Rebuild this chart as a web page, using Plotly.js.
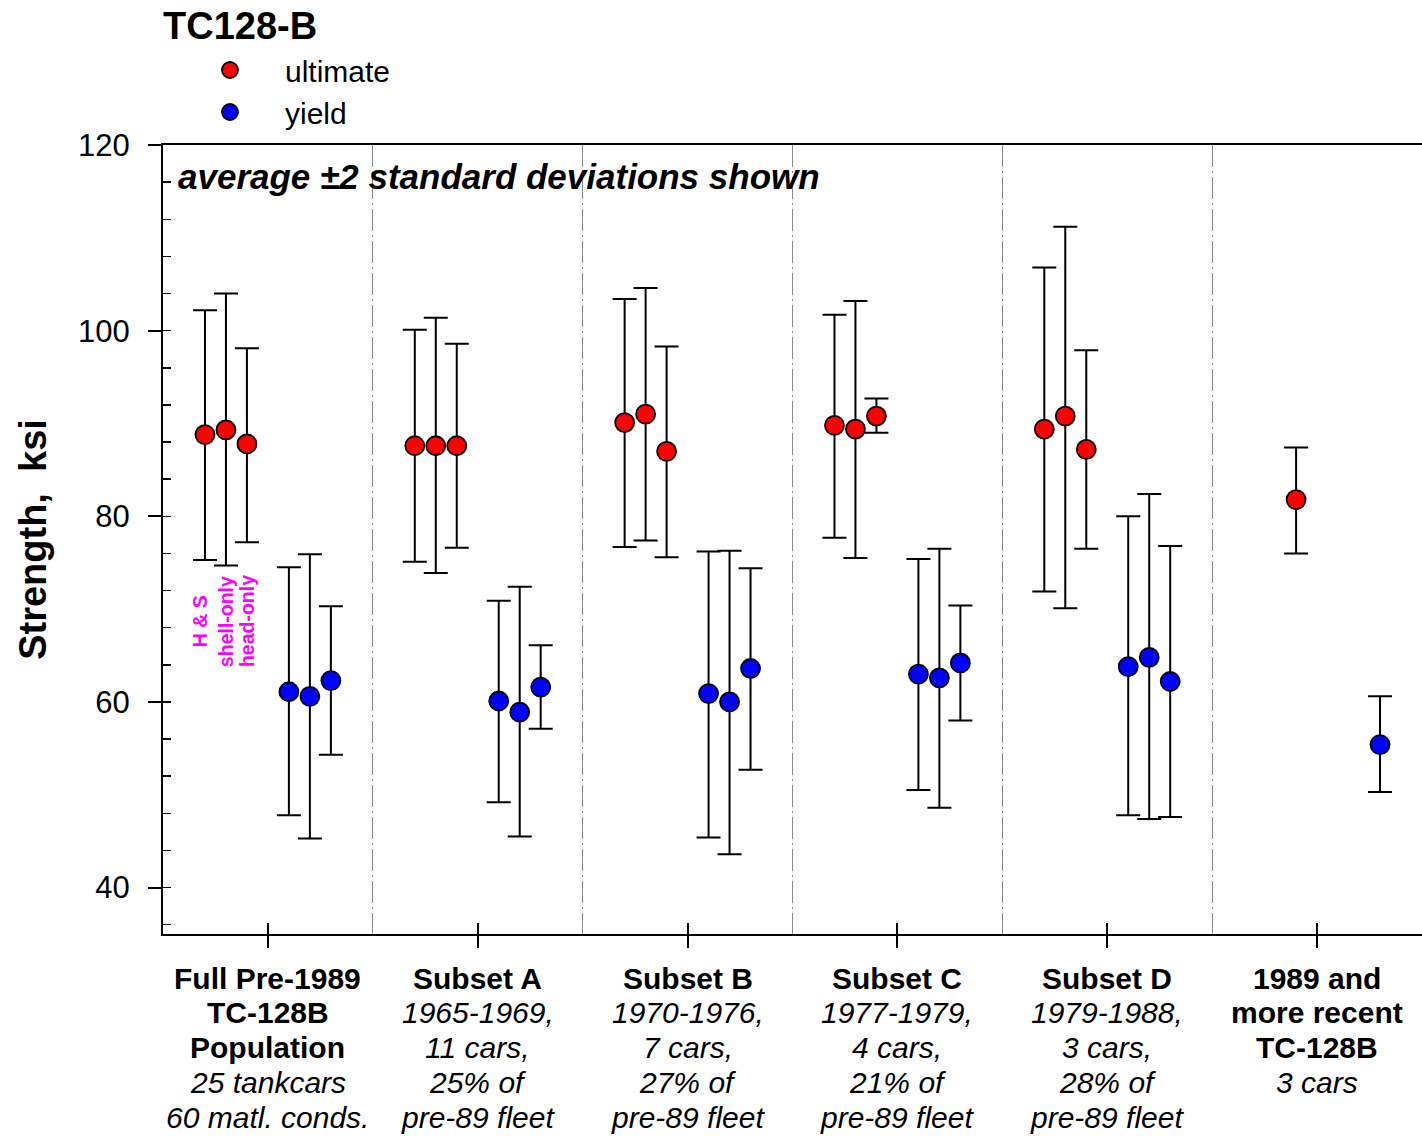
<!DOCTYPE html>
<html>
<head>
<meta charset="utf-8">
<script src="https://cdn.plot.ly/plotly-3.0.1.min.js"></script>
<style>
  html, body { margin: 0; padding: 0; background: #ffffff; }
  #chart { width: 1422px; height: 1136px; }
</style>
</head>
<body>
<div id="chart"></div>
<script>
// ---------------- data ----------------
const groupLabels = [
  ['<b>Full Pre-1989</b>', '<b>TC-128B</b>', '<b>Population</b>', '<i>25 tankcars</i>', '<i>60 matl. conds.</i>'],
  ['<b>Subset A</b>', '<i>1965-1969,</i>', '<i>11 cars,</i>', '<i>25% of</i>', '<i>pre-89 fleet</i>'],
  ['<b>Subset B</b>', '<i>1970-1976,</i>', '<i>7 cars,</i>', '<i>27% of</i>', '<i>pre-89 fleet</i>'],
  ['<b>Subset C</b>', '<i>1977-1979,</i>', '<i>4 cars,</i>', '<i>21% of</i>', '<i>pre-89 fleet</i>'],
  ['<b>Subset D</b>', '<i>1979-1988,</i>', '<i>3 cars,</i>', '<i>28% of</i>', '<i>pre-89 fleet</i>'],
  ['<b>1989 and</b>', '<b>more recent</b>', '<b>TC-128B</b>', '<i>3 cars</i>']
];
const conditions = ['H & S', 'shell-only', 'head-only'];

// ultimate strength (ksi): average, average+2sd, average-2sd
const ultMeanHS     = [88.8, 87.6, 90.1, 89.8, 89.4, null];
const ultUpperHS    = [102.2, 100.1, 103.4, 101.7, 106.8, null];
const ultLowerHS    = [75.3, 75.1, 76.7, 77.7, 71.9, null];
const ultMeanShell  = [89.3, 87.6, 91.0, 89.4, 90.8, null];
const ultUpperShell = [104.0, 101.4, 104.6, 103.2, 111.2, null];
const ultLowerShell = [74.7, 73.9, 77.4, 75.5, 70.1, null];
const ultMeanHead   = [87.8, 87.6, 87.0, 90.8, 87.2, 81.8];
const ultUpperHead  = [98.1, 98.6, 98.3, 92.7, 97.9, 87.4];
const ultLowerHead  = [77.2, 76.6, 75.6, 89.0, 76.5, 76.0];

// yield strength (ksi)
const yldMeanHS     = [61.1, 60.1, 60.9, 63.0, 63.8, null];
const yldUpperHS    = [74.5, 70.9, 76.2, 75.4, 80.0, null];
const yldLowerHS    = [47.8, 49.2, 45.4, 50.5, 47.8, null];
const yldMeanShell  = [60.6, 58.9, 60.0, 62.6, 64.8, null];
const yldUpperShell = [75.9, 72.4, 76.3, 76.5, 82.4, null];
const yldLowerShell = [45.3, 45.5, 43.6, 48.6, 47.4, null];
const yldMeanHead   = [62.3, 61.6, 63.6, 64.2, 62.2, 55.4];
const yldUpperHead  = [70.3, 66.1, 74.4, 70.4, 76.8, 60.6];
const yldLowerHead  = [54.3, 57.1, 52.7, 58.0, 47.6, 50.3];

// ---------------- build ----------------
const FONT = 'Arial, "Liberation Sans", Helvetica, sans-serif';
const step = 0.1;

function buildSeries(means, uppers, lowers, offsetFn) {
  const x = [], y = [], up = [], dn = [];
  means.forEach((arr, k) => {
    arr.forEach((v, g) => {
      if (v === null) return;
      x.push(g + offsetFn(k));
      y.push(v);
      up.push(uppers[k][g] - v);
      dn.push(v - lowers[k][g]);
    });
  });
  return { x, y, up, dn };
}

const ult = buildSeries(
  [ultMeanHS, ultMeanShell, ultMeanHead],
  [ultUpperHS, ultUpperShell, ultUpperHead],
  [ultLowerHS, ultLowerShell, ultLowerHead],
  k => (k - conditions.length) * step
);
const yld = buildSeries(
  [yldMeanHS, yldMeanShell, yldMeanHead],
  [yldUpperHS, yldUpperShell, yldUpperHead],
  [yldLowerHS, yldLowerShell, yldLowerHead],
  k => (k + 1) * step
);

function trace(name, s, color) {
  return {
    type: 'scatter', mode: 'markers', name: name,
    x: s.x, y: s.y,
    marker: { color: color, size: 19, line: { color: '#000000', width: 1.8 } },
    error_y: { type: 'data', symmetric: false, array: s.up, arrayminus: s.dn,
               color: '#000000', thickness: 2, width: 12 },
    hoverinfo: 'x+y'
  };
}

const data = [
  trace('ultimate', ult, '#ff0000'),
  trace('yield', yld, '#0000ff'),
  { type: 'scatter', x: [], y: [], xaxis: 'x2', yaxis: 'y2', showlegend: false, hoverinfo: 'skip' }
];

const groupIdx = groupLabels.map((_, i) => i);
const separators = groupLabels.slice(1).map((_, i) => i + 0.5);
const xRange = [-0.5, groupLabels.length - 0.5];
const yRange = [35, 120];

const annotations = [];
groupLabels.forEach((lines, g) => {
  lines.forEach((line, k) => {
    annotations.push({
      xref: 'x', x: g, yref: 'paper', y: 0,
      xanchor: 'center', yanchor: 'middle',
      yshift: -(44 + 34.8 * k),
      text: line, showarrow: false,
      font: { family: FONT, size: 30, color: '#000000' }
    });
  });
});
conditions.forEach((c, k) => {
  annotations.push({
    xref: 'x', x: (k - conditions.length) * step, yref: 'y', y: 68.7,
    xanchor: 'center', yanchor: 'middle', textangle: -90,
    xshift: k === 0 ? -5 : 0,
    text: '<b>' + c + '</b>', showarrow: false,
    font: { family: FONT, size: 19.5, color: '#ff00ff' }
  });
});
annotations.push({
  xref: 'paper', x: 0.0105, yref: 'paper', y: 0.9607,
  xanchor: 'left', yanchor: 'middle',
  text: '<b><i>average \u00b12 standard deviations shown</i></b>', showarrow: false,
  font: { family: FONT, size: 35, color: '#000000' }
});

const layout = {
  width: 1422, height: 1136,
  paper_bgcolor: '#ffffff', plot_bgcolor: 'rgba(0,0,0,0)',
  margin: { l: 163, r: 0, t: 145, b: 202, pad: 0 },
  font: { family: FONT, color: '#000000' },
  title: {
    text: '<b>TC128-B</b>', font: { family: FONT, size: 38, color: '#000000' },
    xref: 'paper', x: 0, xanchor: 'left',
    yref: 'container', y: 0.977, yanchor: 'middle'
  },
  showlegend: true,
  legend: {
    x: 0.0095, xanchor: 'left', y: 1.128, yanchor: 'top',
    font: { family: FONT, size: 30, color: '#000000' },
    itemwidth: 100, bgcolor: 'rgba(0,0,0,0)', borderwidth: 0,
    tracegroupgap: 0
  },
  xaxis: {
    range: xRange, tickmode: 'array', tickvals: groupIdx, showticklabels: false,
    ticks: 'outside', ticklen: 12, tickwidth: 2, tickcolor: '#000000',
    showline: true, linewidth: 2, linecolor: '#000000', mirror: true,
    showgrid: false, zeroline: false,
    minor: { tickmode: 'array', tickvals: separators, ticks: '', showgrid: true,
             gridcolor: '#8a8a8a', gridwidth: 1.3, griddash: '22px,4px,2px,4px' }
  },
  xaxis2: {
    overlaying: 'x', anchor: 'y', side: 'bottom', range: xRange,
    tickmode: 'array', tickvals: groupIdx, showticklabels: false,
    ticks: 'inside', ticklen: 11, tickwidth: 2, tickcolor: '#000000',
    showline: false, showgrid: false, zeroline: false
  },
  yaxis: {
    range: yRange, tickmode: 'linear', tick0: 0, dtick: 20,
    ticks: 'outside', ticklen: 13, tickwidth: 2, tickcolor: '#000000',
    ticklabelstandoff: 12,
    tickfont: { family: FONT, size: 31, color: '#000000' },
    showline: true, linewidth: 2, linecolor: '#000000',
    showgrid: false, zeroline: false,
    title: { text: '<b>Strength,\u00a0 ksi</b>', font: { family: FONT, size: 38, color: '#000000' }, standoff: 20 }
  },
  yaxis2: {
    overlaying: 'y', anchor: 'x', side: 'left', range: yRange,
    tickmode: 'linear', tick0: 0, dtick: 4, showticklabels: false,
    ticks: 'inside', ticklen: 8, tickwidth: 1.5, tickcolor: '#000000',
    showline: false, showgrid: false, zeroline: false
  },
  annotations: annotations
};

Plotly.newPlot('chart', data, layout, { displayModeBar: false, staticPlot: true });
</script>
</body>
</html>
